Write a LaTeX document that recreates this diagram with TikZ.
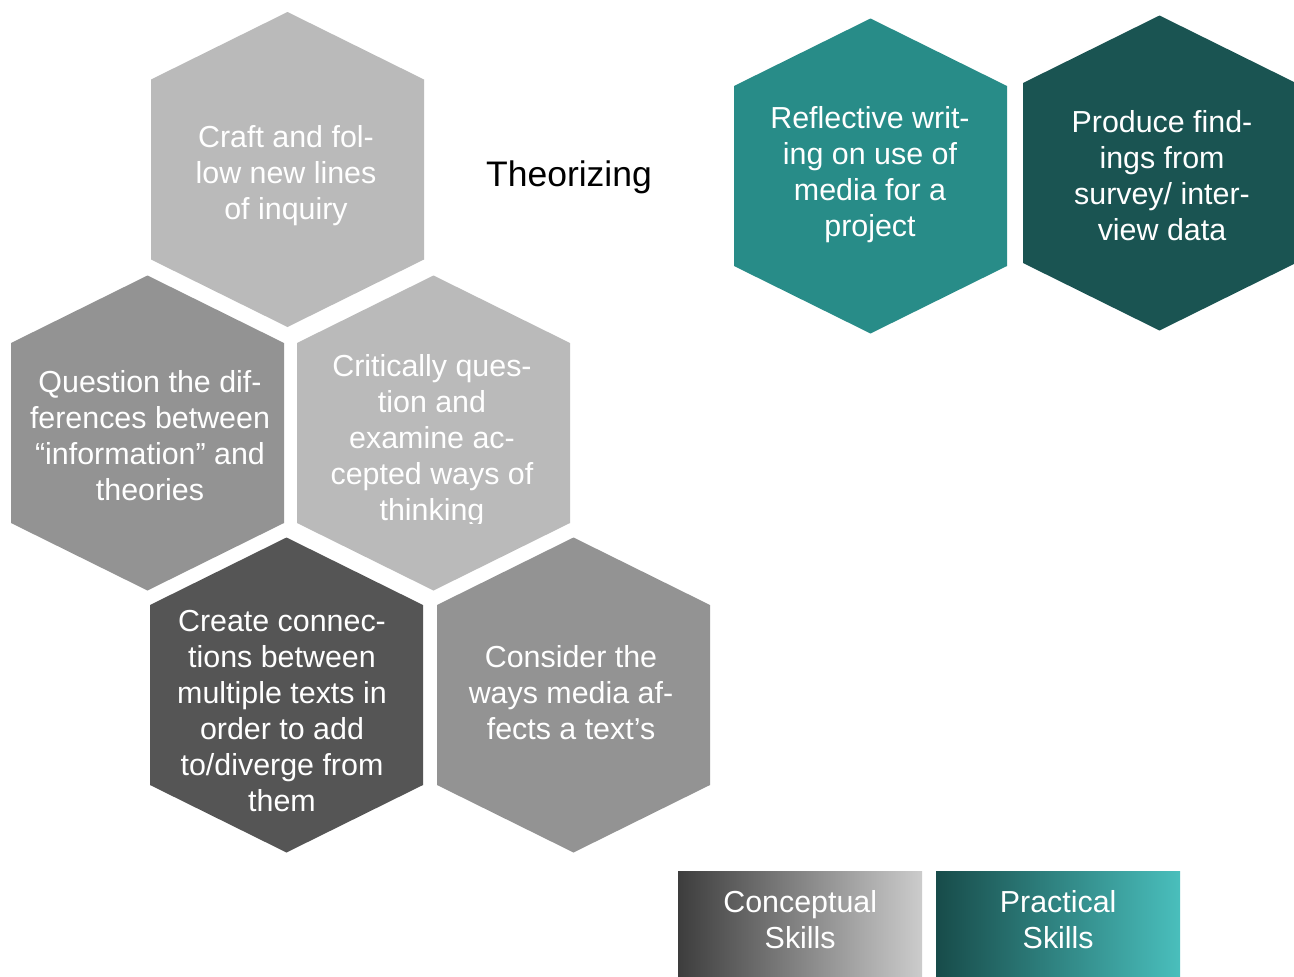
\documentclass[tikz,border=0pt]{standalone}
\usepackage{fontspec}
\setmainfont{Liberation Sans}
\usetikzlibrary{calc}

\definecolor{hexlight}{HTML}{BABABA}
\definecolor{hexmid}{HTML}{939393}
\definecolor{hexdark}{HTML}{555555}
\definecolor{hexteal}{HTML}{288C88}
\definecolor{hexdeep}{HTML}{1A5452}

% pointy-top hexagon cell around a named centre
\newcommand{\hexcell}[4]{%
  \coordinate (#1) at (#2,#3);
  \fill[#4, shift={(#1)}]
    (0,-157.5) -- (136.5,-90) -- (136.5,90) -- (0,157.5)
    -- (-136.5,90) -- (-136.5,-90) -- cycle;}

\tikzset{
  celltext/.style={text=white, align=center, inner sep=0pt,
    font=\fontsize{30.4}{36}\selectfont},
  keybox/.style={minimum width=244pt, minimum height=106pt, inner sep=0pt,
    anchor=north west},
  keytext/.style={text=white, align=center, inner sep=0pt,
    font=\fontsize{30.4}{36}\selectfont},
}

\begin{document}
\begin{tikzpicture}[x=1pt, y=-1pt]
\useasboundingbox (0,0) rectangle (1294,977);
\fill[white] (0,0) rectangle (1294,977);

% conceptual cluster
\hexcell{craft}{287.5}{169.5}{hexlight}
\hexcell{question}{147.5}{433}{hexmid}
\hexcell{critical}{433.5}{433}{hexlight}
\hexcell{create}{286.5}{695}{hexdark}
\hexcell{consider}{573.5}{695}{hexmid}

% practical cluster
\hexcell{reflect}{870.5}{176}{hexteal}
\hexcell{produce}{1159.5}{173}{hexdeep}

\node[celltext] (crafttext) at (286,176) {Craft and fol-\\low new lines\\of inquiry};
\node[celltext] (questiontext) at (150,435.5) {Question the dif-\\ferences between\\“information” and\\theories};
\begin{scope}
  \clip (297,275) rectangle (570,523);
  \node[celltext] (criticaltext) at (432,440.5) {Critically ques-\\tion and\\examine ac-\\cepted ways of\\thinking};
\end{scope}
\node[celltext] (createtext) at (282,711.5) {Create connec-\\tions between\\multiple texts in\\order to add\\to/diverge from\\them};
\node[celltext] (considertext) at (571,692.5) {Consider the\\ways media af-\\fects a text’s};
\node[celltext] (reflecttext) at (870,175) {Reflective writ-\\ing on use of\\media for a\\project};
\node[celltext] (producetext) at (1162,175.5) {Produce find-\\ings from\\survey/ inter-\\view data};

\node[font=\fontsize{35.5}{42}\selectfont, inner sep=0pt] (title) at (569,177) {Theorizing};

% legend
\node[keybox, left color=black!76, middle color=black!35, right color=black!20] (conceptual) at (678,871) {};
\node[keytext] (conceptualtext) at ($(conceptual.center)+(0,-5)$) {Conceptual\\Skills};
\node[keybox, left color=hexdeep!90!black, middle color=hexteal, right color=hexteal!70!cyan!80!white] (practical) at (936,871) {};
\node[keytext] (practicaltext) at ($(practical.center)+(0,-5)$) {Practical\\Skills};
\end{tikzpicture}
\end{document}
